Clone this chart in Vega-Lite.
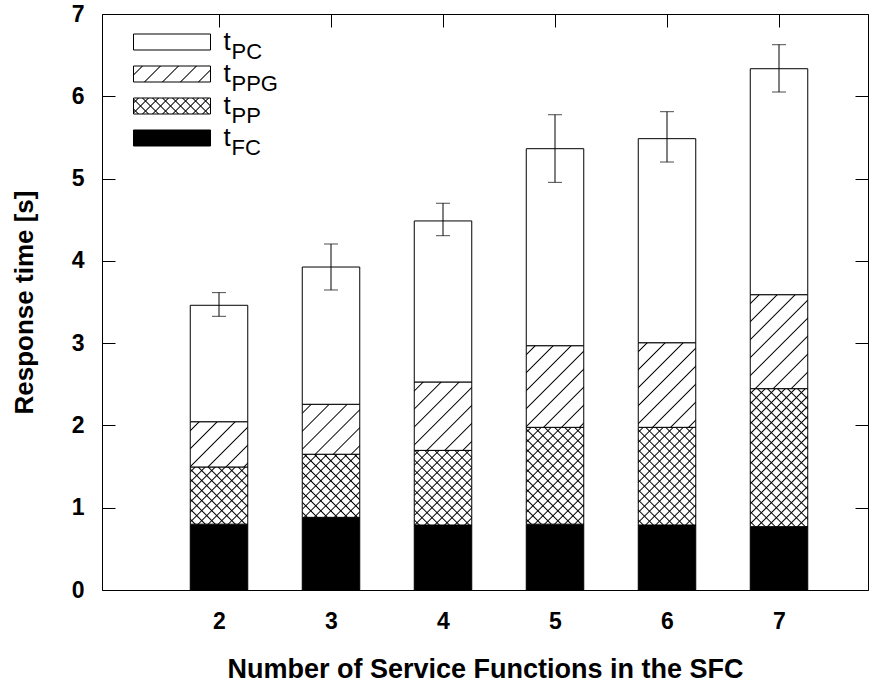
{
  "$schema": "https://vega.github.io/schema/vega-lite/v6.json",
  "width": 766,
  "height": 576,
  "autosize": "none",
  "padding": {"left": 102, "top": 14, "right": 22, "bottom": 96},
  "background": "white",
  "config": {
    "font": "Liberation Sans",
    "view": {"stroke": "black", "strokeWidth": 1},
    "axis": {"labelColor": "black", "titleColor": "black", "tickColor": "black", "tickWidth": 1, "domain": false, "grid": false, "labelFont": "Liberation Sans", "titleFont": "Liberation Sans"},
    "legend": {"padding": 0, "offset": 0}
  },
  "params": [
    {"name": "sA", "value": [
      {"offset": 0.017, "color": "#ffffff"}, {"offset": 0.02, "color": "#000000"}, {"offset": 0.023, "color": "#ffffff"},
      {"offset": 0.057, "color": "#ffffff"}, {"offset": 0.06, "color": "#000000"}, {"offset": 0.063, "color": "#ffffff"},
      {"offset": 0.097, "color": "#ffffff"}, {"offset": 0.10, "color": "#000000"}, {"offset": 0.103, "color": "#ffffff"},
      {"offset": 0.137, "color": "#ffffff"}, {"offset": 0.14, "color": "#000000"}, {"offset": 0.143, "color": "#ffffff"},
      {"offset": 0.177, "color": "#ffffff"}, {"offset": 0.18, "color": "#000000"}, {"offset": 0.183, "color": "#ffffff"},
      {"offset": 0.217, "color": "#ffffff"}, {"offset": 0.22, "color": "#000000"}, {"offset": 0.223, "color": "#ffffff"},
      {"offset": 0.257, "color": "#ffffff"}, {"offset": 0.26, "color": "#000000"}, {"offset": 0.263, "color": "#ffffff"},
      {"offset": 0.297, "color": "#ffffff"}, {"offset": 0.30, "color": "#000000"}, {"offset": 0.303, "color": "#ffffff"},
      {"offset": 0.337, "color": "#ffffff"}, {"offset": 0.34, "color": "#000000"}, {"offset": 0.343, "color": "#ffffff"},
      {"offset": 0.377, "color": "#ffffff"}, {"offset": 0.38, "color": "#000000"}, {"offset": 0.383, "color": "#ffffff"}
    ]},
    {"name": "sB", "value": [
      {"offset": 0.0145, "color": "#ffffff"}, {"offset": 0.02, "color": "#000000"}, {"offset": 0.0255, "color": "#ffffff"},
      {"offset": 0.0545, "color": "#ffffff"}, {"offset": 0.06, "color": "#000000"}, {"offset": 0.0655, "color": "#ffffff"},
      {"offset": 0.0945, "color": "#ffffff"}, {"offset": 0.10, "color": "#000000"}, {"offset": 0.1055, "color": "#ffffff"},
      {"offset": 0.1345, "color": "#ffffff"}, {"offset": 0.14, "color": "#000000"}, {"offset": 0.1455, "color": "#ffffff"},
      {"offset": 0.1745, "color": "#ffffff"}, {"offset": 0.18, "color": "#000000"}, {"offset": 0.1855, "color": "#ffffff"},
      {"offset": 0.2145, "color": "#ffffff"}, {"offset": 0.22, "color": "#000000"}, {"offset": 0.2255, "color": "#ffffff"},
      {"offset": 0.2545, "color": "#ffffff"}, {"offset": 0.26, "color": "#000000"}, {"offset": 0.2655, "color": "#ffffff"},
      {"offset": 0.2945, "color": "#ffffff"}, {"offset": 0.30, "color": "#000000"}, {"offset": 0.3055, "color": "#ffffff"},
      {"offset": 0.3345, "color": "#ffffff"}, {"offset": 0.34, "color": "#000000"}, {"offset": 0.3455, "color": "#ffffff"},
      {"offset": 0.3745, "color": "#ffffff"}, {"offset": 0.38, "color": "#000000"}, {"offset": 0.3855, "color": "#ffffff"},
      {"offset": 0.4145, "color": "#ffffff"}, {"offset": 0.42, "color": "#000000"}, {"offset": 0.4255, "color": "#ffffff"},
      {"offset": 0.4545, "color": "#ffffff"}, {"offset": 0.46, "color": "#000000"}, {"offset": 0.4655, "color": "#ffffff"},
      {"offset": 0.4945, "color": "#ffffff"}, {"offset": 0.50, "color": "#000000"}, {"offset": 0.5055, "color": "#ffffff"},
      {"offset": 0.5345, "color": "#ffffff"}, {"offset": 0.54, "color": "#000000"}, {"offset": 0.5455, "color": "#ffffff"},
      {"offset": 0.5745, "color": "#ffffff"}, {"offset": 0.58, "color": "#000000"}, {"offset": 0.5855, "color": "#ffffff"},
      {"offset": 0.6145, "color": "#ffffff"}, {"offset": 0.62, "color": "#000000"}, {"offset": 0.6255, "color": "#ffffff"},
      {"offset": 0.6545, "color": "#ffffff"}, {"offset": 0.66, "color": "#000000"}, {"offset": 0.6655, "color": "#ffffff"},
      {"offset": 0.6945, "color": "#ffffff"}, {"offset": 0.70, "color": "#000000"}, {"offset": 0.7055, "color": "#ffffff"},
      {"offset": 0.7345, "color": "#ffffff"}, {"offset": 0.74, "color": "#000000"}, {"offset": 0.7455, "color": "#ffffff"},
      {"offset": 0.7745, "color": "#ffffff"}, {"offset": 0.78, "color": "#000000"}, {"offset": 0.7855, "color": "#ffffff"},
      {"offset": 0.8145, "color": "#ffffff"}, {"offset": 0.82, "color": "#000000"}, {"offset": 0.8255, "color": "#ffffff"}
    ]},
    {"name": "sC", "value": [
      {"offset": 0.0145, "color": "rgba(0,0,0,0)"}, {"offset": 0.02, "color": "#000000"}, {"offset": 0.0255, "color": "rgba(0,0,0,0)"},
      {"offset": 0.0545, "color": "rgba(0,0,0,0)"}, {"offset": 0.06, "color": "#000000"}, {"offset": 0.0655, "color": "rgba(0,0,0,0)"},
      {"offset": 0.0945, "color": "rgba(0,0,0,0)"}, {"offset": 0.10, "color": "#000000"}, {"offset": 0.1055, "color": "rgba(0,0,0,0)"},
      {"offset": 0.1345, "color": "rgba(0,0,0,0)"}, {"offset": 0.14, "color": "#000000"}, {"offset": 0.1455, "color": "rgba(0,0,0,0)"},
      {"offset": 0.1745, "color": "rgba(0,0,0,0)"}, {"offset": 0.18, "color": "#000000"}, {"offset": 0.1855, "color": "rgba(0,0,0,0)"},
      {"offset": 0.2145, "color": "rgba(0,0,0,0)"}, {"offset": 0.22, "color": "#000000"}, {"offset": 0.2255, "color": "rgba(0,0,0,0)"},
      {"offset": 0.2545, "color": "rgba(0,0,0,0)"}, {"offset": 0.26, "color": "#000000"}, {"offset": 0.2655, "color": "rgba(0,0,0,0)"},
      {"offset": 0.2945, "color": "rgba(0,0,0,0)"}, {"offset": 0.30, "color": "#000000"}, {"offset": 0.3055, "color": "rgba(0,0,0,0)"},
      {"offset": 0.3345, "color": "rgba(0,0,0,0)"}, {"offset": 0.34, "color": "#000000"}, {"offset": 0.3455, "color": "rgba(0,0,0,0)"},
      {"offset": 0.3745, "color": "rgba(0,0,0,0)"}, {"offset": 0.38, "color": "#000000"}, {"offset": 0.3855, "color": "rgba(0,0,0,0)"},
      {"offset": 0.4145, "color": "rgba(0,0,0,0)"}, {"offset": 0.42, "color": "#000000"}, {"offset": 0.4255, "color": "rgba(0,0,0,0)"},
      {"offset": 0.4545, "color": "rgba(0,0,0,0)"}, {"offset": 0.46, "color": "#000000"}, {"offset": 0.4655, "color": "rgba(0,0,0,0)"},
      {"offset": 0.4945, "color": "rgba(0,0,0,0)"}, {"offset": 0.50, "color": "#000000"}, {"offset": 0.5055, "color": "rgba(0,0,0,0)"},
      {"offset": 0.5345, "color": "rgba(0,0,0,0)"}, {"offset": 0.54, "color": "#000000"}, {"offset": 0.5455, "color": "rgba(0,0,0,0)"},
      {"offset": 0.5745, "color": "rgba(0,0,0,0)"}, {"offset": 0.58, "color": "#000000"}, {"offset": 0.5855, "color": "rgba(0,0,0,0)"},
      {"offset": 0.6145, "color": "rgba(0,0,0,0)"}, {"offset": 0.62, "color": "#000000"}, {"offset": 0.6255, "color": "rgba(0,0,0,0)"},
      {"offset": 0.6545, "color": "rgba(0,0,0,0)"}, {"offset": 0.66, "color": "#000000"}, {"offset": 0.6655, "color": "rgba(0,0,0,0)"},
      {"offset": 0.6945, "color": "rgba(0,0,0,0)"}, {"offset": 0.70, "color": "#000000"}, {"offset": 0.7055, "color": "rgba(0,0,0,0)"},
      {"offset": 0.7345, "color": "rgba(0,0,0,0)"}, {"offset": 0.74, "color": "#000000"}, {"offset": 0.7455, "color": "rgba(0,0,0,0)"},
      {"offset": 0.7745, "color": "rgba(0,0,0,0)"}, {"offset": 0.78, "color": "#000000"}, {"offset": 0.7855, "color": "rgba(0,0,0,0)"},
      {"offset": 0.8145, "color": "rgba(0,0,0,0)"}, {"offset": 0.82, "color": "#000000"}, {"offset": 0.8255, "color": "rgba(0,0,0,0)"}
    ]}
  ],
  "datasets": {
    "parts": [
      {"n": 2, "component": "FC", "value": 0.80},
      {"n": 2, "component": "PP", "value": 0.695},
      {"n": 2, "component": "PPG", "value": 0.55},
      {"n": 2, "component": "PC", "value": 1.415},
      {"n": 3, "component": "FC", "value": 0.883},
      {"n": 3, "component": "PP", "value": 0.767},
      {"n": 3, "component": "PPG", "value": 0.607},
      {"n": 3, "component": "PC", "value": 1.668},
      {"n": 4, "component": "FC", "value": 0.79},
      {"n": 4, "component": "PP", "value": 0.907},
      {"n": 4, "component": "PPG", "value": 0.831},
      {"n": 4, "component": "PC", "value": 1.957},
      {"n": 5, "component": "FC", "value": 0.80},
      {"n": 5, "component": "PP", "value": 1.177},
      {"n": 5, "component": "PPG", "value": 0.992},
      {"n": 5, "component": "PC", "value": 2.394},
      {"n": 6, "component": "FC", "value": 0.79},
      {"n": 6, "component": "PP", "value": 1.187},
      {"n": 6, "component": "PPG", "value": 1.028},
      {"n": 6, "component": "PC", "value": 2.48},
      {"n": 7, "component": "FC", "value": 0.77},
      {"n": 7, "component": "PP", "value": 1.677},
      {"n": 7, "component": "PPG", "value": 1.142},
      {"n": 7, "component": "PC", "value": 2.746}
    ],
    "errors": [
      {"n": 2, "total": 3.46, "lo": 3.326, "hi": 3.614},
      {"n": 3, "total": 3.925, "lo": 3.646, "hi": 4.205},
      {"n": 4, "total": 4.485, "lo": 4.306, "hi": 4.70},
      {"n": 5, "total": 5.363, "lo": 4.954, "hi": 5.776},
      {"n": 6, "total": 5.485, "lo": 5.201, "hi": 5.813},
      {"n": 7, "total": 6.335, "lo": 6.052, "hi": 6.627}
    ]
  },
  "layer": [
    {
      "data": {"name": "parts"},
      "mark": {"type": "bar", "orient": "vertical", "width": 57.5, "stroke": "black", "strokeWidth": 1},
      "encoding": {
        "x": {"field": "n", "type": "quantitative", "scale": {"domain": [1, 7.75], "nice": false, "zero": false},
          "axis": {"orient": "bottom", "values": [2, 3, 4, 5, 6, 7], "title": "Number of Service Functions in the SFC", "labelFontSize": 23, "labelFontWeight": "bold", "tickSize": -13, "labelPadding": 33, "labelBaseline": "top", "titleFontSize": 27, "titleFontWeight": "bold", "titlePadding": 23}},
        "y": {"field": "value", "type": "quantitative", "stack": "zero", "scale": {"domain": [0, 7], "nice": false},
          "axis": {"orient": "left", "values": [0, 1, 2, 3, 4, 5, 6, 7], "title": "Response time [s]", "labelFontSize": 23, "labelFontWeight": "bold", "tickSize": -13, "labelPadding": 31, "titleFontSize": 26, "titleFontWeight": "bold", "titlePadding": 34}},
        "fill": {"value": {"expr": "datum.component === 'FC' ? '#000000' : datum.component === 'PC' ? '#ffffff' : {gradient: 'linear', x1: 0, y1: 0, x2: (datum.component === 'PPG' ? 318 : 177) * 1.4142 * 57.5 / (3306.25 + pow(datum.value * 82.2857, 2)), y2: (datum.component === 'PPG' ? 318 : 177) * 1.4142 * datum.value * 82.2857 / (3306.25 + pow(datum.value * 82.2857, 2)), stops: datum.component === 'PPG' ? sA : sB}"}}
      }
    },
    {
      "data": {"name": "parts"},
      "mark": {"type": "bar", "orient": "vertical", "width": 57.5, "strokeWidth": 0},
      "encoding": {
        "x": {"field": "n", "type": "quantitative", "axis": {"orient": "top", "values": [2, 3, 4, 5, 6, 7], "labels": false, "tickSize": -13, "title": null}},
        "y": {"field": "value", "type": "quantitative", "stack": "zero", "axis": {"orient": "right", "values": [0, 1, 2, 3, 4, 5, 6, 7], "labels": false, "tickSize": -13, "title": null}},
        "fill": {"value": {"expr": "datum.component === 'PP' ? {gradient: 'linear', x1: 0, y1: 1, x2: 177 * 1.4142 * 57.5 / (3306.25 + pow(datum.value * 82.2857, 2)), y2: 1 - 177 * 1.4142 * datum.value * 82.2857 / (3306.25 + pow(datum.value * 82.2857, 2)), stops: sC} : 'transparent'"}}
      }
    },
    {
      "data": {"name": "parts"},
      "mark": {"type": "point", "filled": true, "stroke": "black", "strokeWidth": 1, "opacity": 0},
      "encoding": {
        "x": {"field": "n", "type": "quantitative", "axis": null},
        "y": {"field": "value", "type": "quantitative", "axis": null},
        "fill": {"field": "component", "type": "nominal",
          "scale": {"domain": ["PC", "PPG", "PP", "FC"], "range": [
            "#ffffff",
            {"expr": "{gradient: 'linear', x1: 0, y1: 0, x2: 5.599, y2: 1.1634, stops: sA}"},
            {"expr": "{gradient: 'linear', x1: 0, y1: 0, x2: 3.1166, y2: 0.6475, stops: sC}"},
            "#000000"]},
          "legend": {
            "orient": "none", "legendX": 18.5, "legendY": 15, "title": null, "padding": 0,
            "labelExpr": "'t'", "labelFont": "Liberation Sans", "labelFontSize": 26, "labelColor": "black",
            "labelOffset": 77, "labelBaseline": "middle", "rowPadding": 6,
            "symbolType": "M0,-1H9.625V1H0Z", "symbolSize": 256, "symbolStrokeWidth": 1, "symbolOpacity": 1
          }}
      }
    },
    {
      "data": {"name": "parts"},
      "mark": {"type": "point", "opacity": 0},
      "encoding": {
        "x": {"field": "n", "type": "quantitative", "axis": null},
        "y": {"field": "value", "type": "quantitative", "axis": null},
        "strokeDash": {"field": "component", "type": "nominal", "sort": ["PC", "PPG", "PP", "FC"],
          "legend": {
            "orient": "none", "legendX": 18.5, "legendY": 26.7, "title": null, "padding": 0,
            "labelExpr": "datum.value", "labelFont": "Liberation Sans", "labelFontSize": 22, "labelColor": "black",
            "labelOffset": 89, "labelBaseline": "middle", "rowPadding": 10,
            "symbolType": "M0,0", "symbolSize": 256, "symbolStrokeWidth": 1, "symbolStrokeColor": "transparent", "symbolOpacity": 1
          }}
      }
    },
    {
      "data": {"name": "parts"},
      "transform": [{"filter": "datum.value > 0"}],
      "mark": {"type": "point", "filled": true, "strokeWidth": 0, "opacity": 0,
        "fill": {"expr": "{gradient: 'linear', x1: 0, y1: 1, x2: 3.1166, y2: 0.3525, stops: sC}"}},
      "encoding": {
        "x": {"field": "n", "type": "quantitative", "axis": null},
        "y": {"field": "value", "type": "quantitative", "axis": null},
        "shape": {"field": "component", "type": "nominal", "sort": ["PC", "PPG", "PP", "FC"],
          "scale": {"range": ["M0,0", "M0,0", "M0,-1H9.625V1H0Z", "M0,0"]},
          "legend": {
            "orient": "none", "legendX": 18.5, "legendY": 15, "title": null, "padding": 0,
            "labelExpr": "' '", "labelFont": "Liberation Sans", "labelFontSize": 26, "labelColor": "transparent",
            "labelOffset": 77, "labelBaseline": "middle", "rowPadding": 6,
            "symbolSize": 256, "symbolStrokeWidth": 1, "symbolStrokeColor": "transparent", "symbolOpacity": 1
          }}
      }
    },
    {
      "data": {"name": "errors"},
      "mark": {"type": "rule", "color": "black", "strokeWidth": 1},
      "encoding": {
        "x": {"field": "n", "type": "quantitative", "axis": null},
        "y": {"field": "lo", "type": "quantitative", "axis": null},
        "y2": {"field": "hi"}
      }
    },
    {
      "data": {"name": "errors"},
      "mark": {"type": "tick", "orient": "horizontal", "color": "black", "size": 14, "thickness": 1},
      "encoding": {
        "x": {"field": "n", "type": "quantitative", "axis": null},
        "y": {"field": "lo", "type": "quantitative", "axis": null}
      }
    },
    {
      "data": {"name": "errors"},
      "mark": {"type": "tick", "orient": "horizontal", "color": "black", "size": 14, "thickness": 1},
      "encoding": {
        "x": {"field": "n", "type": "quantitative", "axis": null},
        "y": {"field": "hi", "type": "quantitative", "axis": null}
      }
    }
  ]
}
